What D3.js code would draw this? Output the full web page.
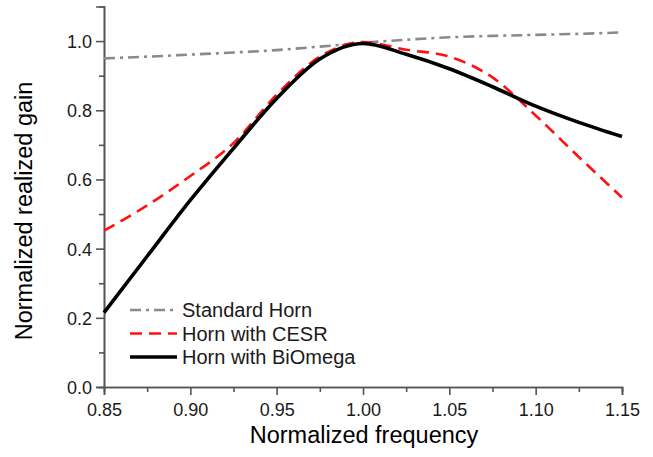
<!DOCTYPE html>
<html lang="en">
<head>
    <meta charset="UTF-8">
    <title>Normalized realized gain</title>
    <script src="https://cdn.jsdelivr.net/npm/d3@7"></script>
    <style>
        body, html {
            margin: 0;
            padding: 0;
            background: #fff;
            overflow: hidden;
        }
        svg {
            display: block;
            font-family: Arial, "Liberation Sans", sans-serif;
        }
    </style>
</head>
<body>
    <svg id="mainsvg"></svg>
    <script>
        // data
        const freq = [0.85, 0.875, 0.90, 0.925, 0.95, 0.975, 1.0, 1.025, 1.05, 1.075, 1.10, 1.125, 1.15];
        const standardHorn = [0.950, 0.955, 0.961, 0.967, 0.974, 0.984, 0.995, 1.004, 1.011, 1.015, 1.018, 1.021, 1.025];
        const cesrHorn = [0.452, 0.525, 0.610, 0.705, 0.845, 0.955, 0.997, 0.975, 0.955, 0.895, 0.785, 0.665, 0.548];
        const biomegaHorn = [0.215, 0.378, 0.540, 0.690, 0.834, 0.948, 0.993, 0.962, 0.920, 0.868, 0.812, 0.765, 0.724];
        const seriesNames = ["Standard Horn", "Horn with CESR", "Horn with BiOmega"];
        const xTicks = [0.85, 0.90, 0.95, 1.00, 1.05, 1.10, 1.15];
        const yTicks = [0.0, 0.2, 0.4, 0.6, 0.8, 1.0];

        const width = 653, height = 457;
        const svg = d3.select("#mainsvg")
            .attr("width", width)
            .attr("height", height);

        const x = d3.scaleLinear().domain([0.85, 1.15]).range([104, 622]);
        const y = d3.scaleLinear().domain([0, 1.1]).range([387, 6.5]);

        const axisColor = "#555";

        // minor ticks first, then major axes on top
        const xAxisMinor = d3.axisBottom(x)
            .tickValues([0.875, 0.925, 0.975, 1.025, 1.075, 1.125])
            .tickSize(5).tickFormat("");
        const yAxisMinor = d3.axisLeft(y)
            .tickValues([0.1, 0.3, 0.5, 0.7, 0.9])
            .tickSize(5).tickFormat("");

        svg.append("g").attr("transform", "translate(0,387)").call(xAxisMinor);
        svg.append("g").attr("transform", "translate(104,0)").call(yAxisMinor);

        const gx = svg.append("g")
            .attr("transform", "translate(0,387)")
            .call(d3.axisBottom(x).tickValues(xTicks).tickSize(8).tickPadding(4).tickFormat(d3.format(".2f")));
        const gy = svg.append("g")
            .attr("transform", "translate(104,0)")
            .call(d3.axisLeft(y).tickValues(yTicks).tickSize(8).tickPadding(4).tickFormat(d3.format(".1f")));

        svg.selectAll(".domain, .tick line")
            .attr("stroke", axisColor)
            .attr("stroke-width", 1.6);
        svg.selectAll(".tick text")
            .attr("fill", "#1a1a1a")
            .style("font-size", "18px")
            .style("font-family", "Arial, 'Liberation Sans', sans-serif");
        gx.selectAll(".tick text").attr("dy", "0.95em");
        gy.selectAll(".tick text").attr("dy", "0.36em");

        // axis titles
        svg.append("text")
            .attr("x", 364)
            .attr("y", 443)
            .attr("text-anchor", "middle")
            .attr("fill", "#000")
            .style("font-size", "23.5px")
            .text("Normalized frequency");

        svg.append("text")
            .attr("transform", "translate(32,211) rotate(-90)")
            .attr("text-anchor", "middle")
            .attr("fill", "#000")
            .style("font-size", "23.5px")
            .text("Normalized realized gain");

        const line = d3.line()
            .x((d, i) => x(freq[i]))
            .y(d => y(d))
            .curve(d3.curveMonotoneX);

        const styles = [
            {data: standardHorn, color: "#8a8a8a", width: 2.6, dash: "11,5,3,5"},
            {data: cesrHorn, color: "#ff1010", width: 2.6, dash: "12,7"},
            {data: biomegaHorn, color: "#000", width: 3.6, dash: null}
        ];

        svg.append("g")
            .selectAll("path")
            .data(styles)
            .join("path")
            .attr("d", d => line(d.data))
            .attr("fill", "none")
            .attr("stroke", d => d.color)
            .attr("stroke-width", d => d.width)
            .attr("stroke-dasharray", d => d.dash);

        // legend
        const legend = svg.append("g");
        const rows = legend.selectAll("g")
            .data(styles)
            .join("g")
            .attr("transform", (d, i) => `translate(0,${310 + i * 23.5})`);
        rows.append("line")
            .attr("x1", 130).attr("x2", 177)
            .attr("y1", 0).attr("y2", 0)
            .attr("stroke", d => d.color)
            .attr("stroke-width", d => d.width)
            .attr("stroke-dasharray", d => d.dash);
        rows.append("text")
            .attr("x", 182)
            .attr("y", 7)
            .attr("fill", "#1a1a1a")
            .style("font-size", "20px")
            .text((d, i) => seriesNames[i]);
    </script>
</body>
</html>
